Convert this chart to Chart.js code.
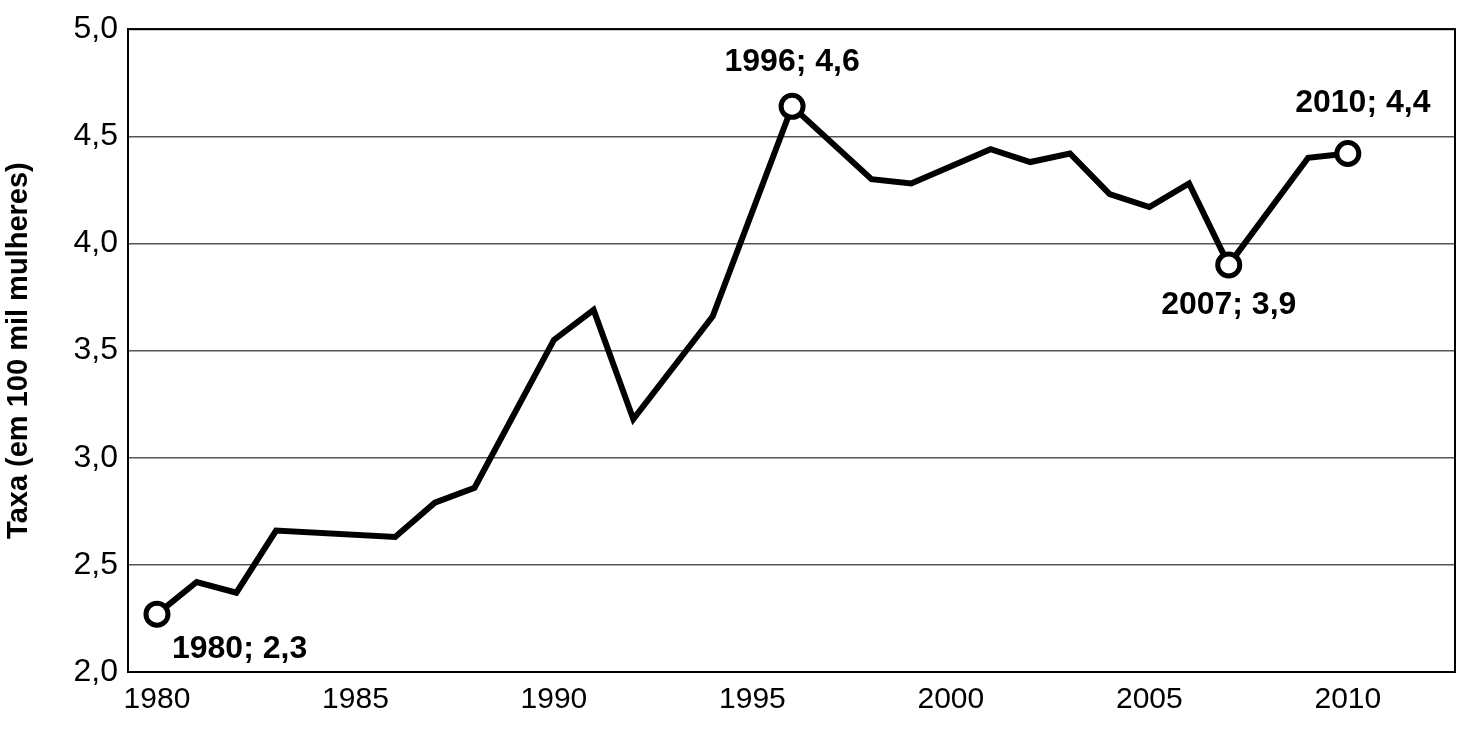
<!DOCTYPE html>
<html><head><meta charset="utf-8">
<script src="https://cdn.jsdelivr.net/npm/chart.js@4"></script>
<style>body{margin:0;background:#fff}#wrap{width:1471px;height:745px}</style>
</head><body><div id="wrap"><canvas id="chart"></canvas></div>
<script>
const years = [1980, 1981, 1982, 1983, 1986, 1987, 1988, 1990, 1991, 1992, 1994, 1996, 1998, 1999, 2001, 2002, 2003, 2004, 2005, 2006, 2007, 2009, 2010];
const rates = [2.27, 2.42, 2.37, 2.66, 2.63, 2.79, 2.86, 3.55, 3.69, 3.18, 3.66, 4.64, 4.30, 4.28, 4.44, 4.38, 4.42, 4.23, 4.17, 4.28, 3.90, 4.40, 4.42];
const marked = [1980, 1996, 2007, 2010];
const notes = [
  { year: 1980, text: "1980; 2,3", dx: 15, dy: 35, align: "left" },
  { year: 1996, text: "1996; 4,6", dx: 0, dy: -44, align: "center" },
  { year: 2007, text: "2007; 3,9", dx: 0, dy: 40, align: "center" },
  { year: 2010, text: "2010; 4,4", dx: 15, dy: -50, align: "center" },
];

const labelPlugin = {
  id: "labels",
  afterDatasetsDraw(chart) {
    const { ctx, scales } = chart;
    ctx.save();
    ctx.font = "bold 32px Arial, 'Liberation Sans'";
    ctx.fillStyle = "#000";
    ctx.textBaseline = "middle";
    notes.forEach((n) => {
      const i = years.indexOf(n.year);
      ctx.textAlign = n.align;
      ctx.fillText(n.text, scales.x.getPixelForValue(n.year) + n.dx, scales.y.getPixelForValue(rates[i]) + n.dy);
    });
    ctx.restore();
  },
};

new Chart(document.getElementById("chart"), {
  type: "line",
  data: {
    datasets: [{
      data: years.map((y, i) => ({ x: y, y: rates[i] })),
      borderColor: "#000",
      borderWidth: 6,
      tension: 0,
      pointRadius: years.map((y) => (marked.includes(y) ? 11 : 0)),
      pointBorderWidth: 5,
      pointBackgroundColor: "#fff",
      pointBorderColor: "#000",
    }],
  },
  options: {
    responsive: true,
    maintainAspectRatio: false,
    animation: false,
    layout: { padding: { top: 27, right: 6, left: 0, bottom: 0 } },
    plugins: { legend: { display: false }, tooltip: { enabled: false } },
    scales: {
      x: {
        type: "linear",
        min: 1979.27,
        max: 2012.7,
        afterBuildTicks: (s) => { s.ticks = [1980, 1985, 1990, 1995, 2000, 2005, 2010].map((v) => ({ value: v })); },
        afterFit: (s) => { s.height = 73; },
        grid: { display: false, drawTicks: true, tickLength: 8, color: "#000" },
        border: { color: "#000", width: 2 },
        ticks: { color: "#000", padding: 2, font: { size: 30, family: "Arial, 'Liberation Sans'" }, callback: (v) => String(v), maxRotation: 0 },
      },
      y: {
        min: 2,
        max: 5,
        afterFit: (s) => { s.width = 128; },
        grid: { color: "#555", lineWidth: 1.5, drawTicks: false },
        border: { color: "#000", width: 2 },
        ticks: { stepSize: 0.5, padding: 10, color: "#000", font: { size: 32, family: "Arial, 'Liberation Sans'" }, callback: (v) => v.toFixed(1).replace(".", ",") },
        title: { display: true, text: "Taxa (em 100 mil mulheres)", color: "#000", font: { size: 29, weight: "bold", family: "Arial, 'Liberation Sans'" }, padding: 2 },
      },
    },
  },
  plugins: [labelPlugin, {
    id: "frame",
    afterDraw(chart) {
      const { ctx, chartArea: a } = chart;
      ctx.save();
      ctx.strokeStyle = "#000";
      ctx.lineWidth = 2;
      ctx.strokeRect(a.left, a.top, a.right - a.left, a.bottom - a.top);
      ctx.restore();
    },
  }],
});
</script>
</body></html>
